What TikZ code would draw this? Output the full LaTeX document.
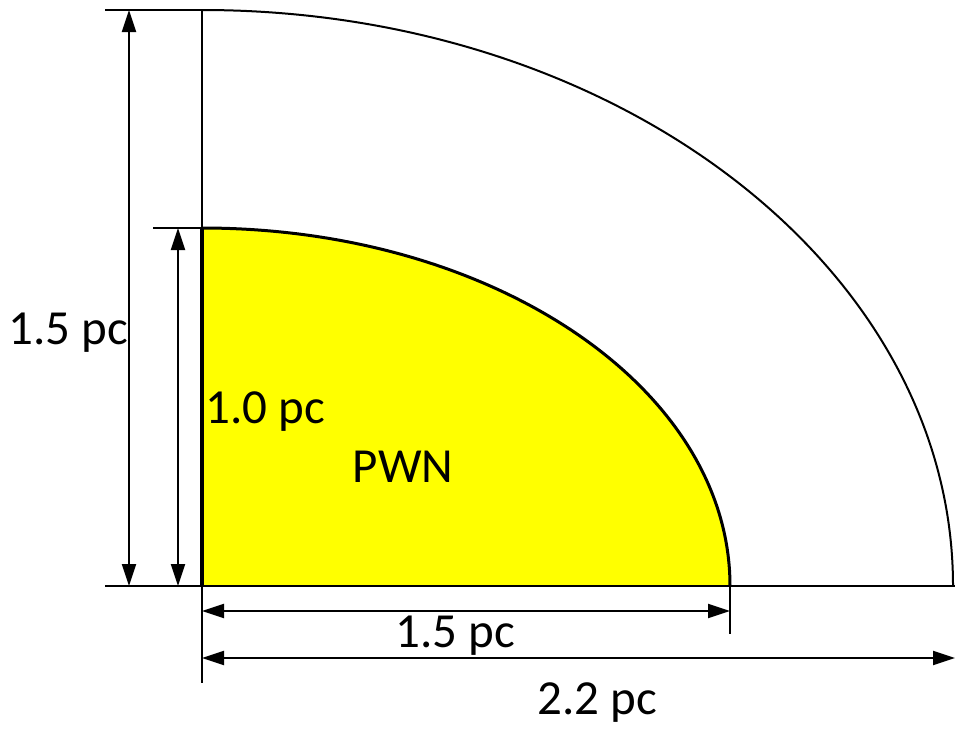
\documentclass[tikz,border=0pt]{standalone}
\usepackage{fontspec}
\setmainfont{Carlito}
\usetikzlibrary{arrows.meta}
\definecolor{pwnyellow}{RGB}{255,255,0}
\begin{document}
\begin{tikzpicture}[x=1pt,y=-1pt,
  thin line/.style={line width=2pt},
  dim/.style={line width=2pt,{Triangle[length=22pt,width=14pt]}-{Triangle[length=22pt,width=14pt]}},
  lbl/.style={font=\fontsize{49}{52}\selectfont,inner sep=0pt}]
\useasboundingbox (0,0) rectangle (955,729);
\coordinate (O) at (202,586);
% PWN filled quarter ellipse
\fill[pwnyellow] (O) -- (202,228) arc[start angle=90,end angle=0,x radius=528,y radius=-358] -- cycle;
\draw[line width=3pt] (202,228) arc[start angle=90,end angle=0,x radius=528,y radius=-358];
% outer quarter ellipse
\draw[thin line] (202,10) arc[start angle=90,end angle=0,x radius=751,y radius=-576];
% axes and ticks
\draw[thin line] (202,10) -- (202,683);
\draw[line width=3.5pt] (202,228) -- (O);
\draw[thin line] (105,586) -- (955,586);
\draw[thin line] (105,10) -- (202,10);
\draw[thin line] (153,228) -- (202,228);
\draw[thin line] (730,586) -- (730,634);
% dimension arrows
\coordinate (a1) at (129,10); \coordinate (a2) at (129,586);
\coordinate (b1) at (178,228); \coordinate (b2) at (178,586);
\coordinate (c1) at (202,611); \coordinate (c2) at (730,611);
\coordinate (d1) at (202,658); \coordinate (d2) at (955,658);
\draw[dim] (a1) -- (a2);
\draw[dim] (b1) -- (b2);
\draw[dim] (c1) -- (c2);
\draw[dim] (d1) -- (d2);
% labels
\node[lbl,anchor=west] (l1) at (8,333) {1.5 pc};
\node[lbl,anchor=west] (l2) at (205,412) {1.0 pc};
\node[lbl] (pwn) at (403,467) {PWN};
\node[lbl] (l3) at (455,636) {1.5 pc};
\node[lbl] (l4) at (597,703) {2.2 pc};
\end{tikzpicture}
\end{document}
